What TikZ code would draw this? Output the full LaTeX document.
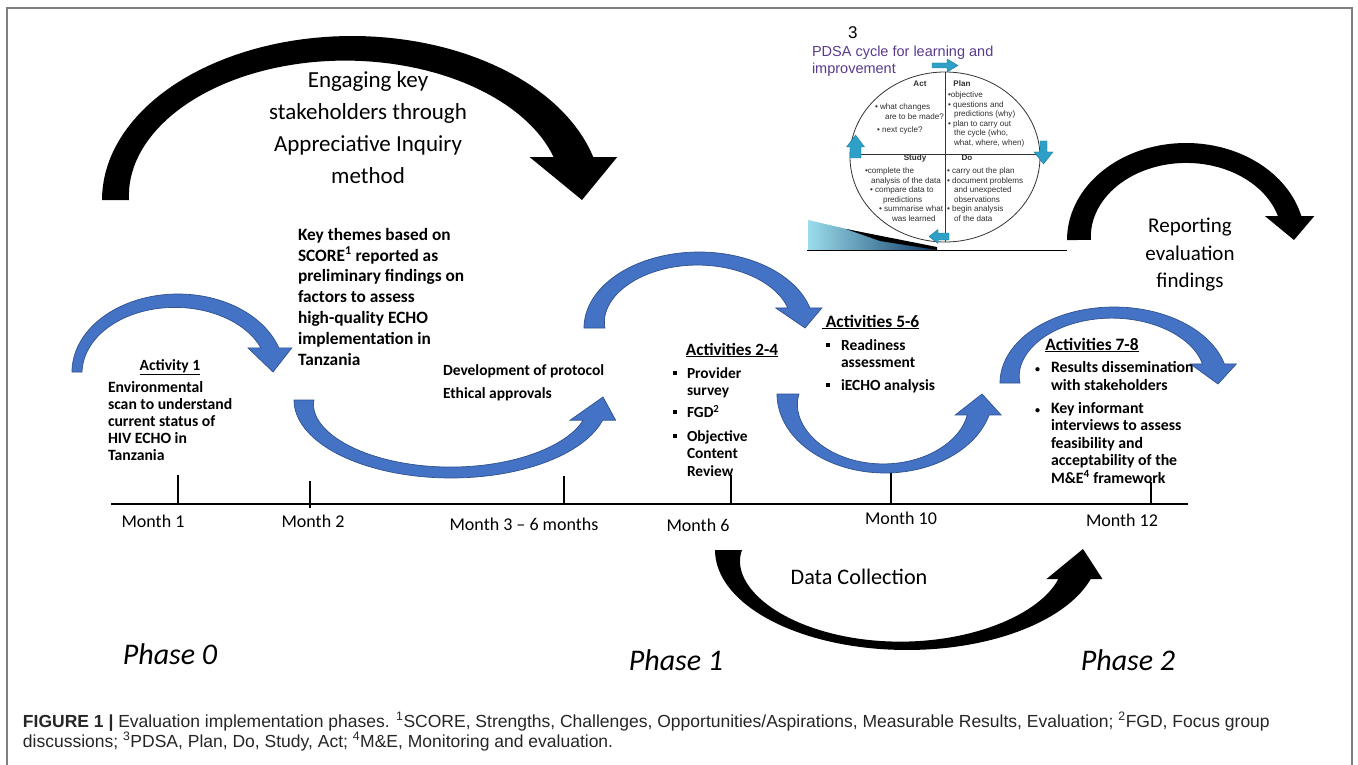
\documentclass[tikz,border=0pt]{standalone}
\usepackage{fontspec}
\setmainfont{Carlito}
\newfontfamily\capfont{Liberation Sans}
\usetikzlibrary{calc}
\definecolor{bandblue}{HTML}{4472C4}
\definecolor{bandedge}{HTML}{2F528F}
\definecolor{pdsateal}{HTML}{2E9FC6}
\definecolor{pdsatealdk}{HTML}{1D7A9C}
\definecolor{pdsapurple}{HTML}{5B3A8E}
\definecolor{wedgelight}{HTML}{9ADCEB}
\definecolor{wedgedark}{HTML}{0E3A66}
\definecolor{framegray}{HTML}{7F7F7F}
\definecolor{pdsatext}{HTML}{303030}
\newcommand{\fs}[2]{\fontsize{#1}{#2}\selectfont}
\newcommand{\bsq}{\raisebox{0.22em}{\rule{0.26em}{0.26em}}}
\newcommand{\sbul}{{\fs{10}{10}\textbf{•}}}
\def\getfour#1,#2,#3,#4\relax{\def\gA{#1}\def\gB{#2}\def\gC{#3}\def\gD{#4}}
% #1 cx,cy,rx,ry (outer ellipse)  #2 tail angle  #3 head angle
% #4 #5 #6 thickness at tail / middle / head   #7 head overhang  #8 tip  #9 style
\newcommand{\bandarrow}[9]{%
  \getfour#1\relax
  \pgfmathsetmacro\yO{\gB+\gD*sin(#3)}%
  \pgfmathsetmacro\xO{\gA+\gC*cos(#3)}%
  \pgfmathsetmacro\sphi{\gD*sin(#3)/(\gD-(#6))}%
  \pgfmathsetmacro\phiang{asin(\sphi)+((#3)>180)*360}%
  \pgfmathsetmacro\xI{\gA+(\gC-(#6))*cos(\phiang)}%
  \def\bpp{((\myang-(#2))/((\phiang)-(#2)))}%
  \def\bTT{((#4)*(1-\bpp)*(1-2*\bpp)+4*(#5)*\bpp*(1-\bpp)+(#6)*\bpp*(2*\bpp-1))}%
  \fill[#9] plot[domain=#2:#3,samples=70,variable=\myang] ({\gA+\gC*cos(\myang)},{\gB+\gD*sin(\myang)})
    -- ({\xO+#7},\yO) -- #8 -- ({\xI-#7},\yO)
    -- plot[domain=\phiang:#2,samples=70,variable=\myang] ({\gA+(\gC-\bTT)*cos(\myang)},{\gB+(\gD-\bTT)*sin(\myang)})
    -- cycle;
}
\begin{document}
\begin{tikzpicture}[x=1pt,y=-1pt,
  blueband/.style={fill=bandblue, draw=bandedge, line width=0.7pt},
  blackband/.style={fill=black},
  lbl/.style={inner sep=0pt, outer sep=0pt},
  pdsaarrow/.style={fill=pdsateal, draw=pdsatealdk, line width=0.4pt},
  pdsasmall/.style={lbl, anchor=north west, align=left, font=\capfont\fs{8.1}{9.6}, text=pdsatext},
  pdsahead/.style={lbl, anchor=base, font=\capfont\bfseries\fs{8.1}{9.6}, text=pdsatext},
  month/.style={lbl, anchor=base, font=\fs{18}{20}},
  phase/.style={lbl, anchor=base, font=\itshape\fs{30}{36}},
  tick/.style={line width=1.3pt}]
\useasboundingbox (0,0) rectangle (1358,765);
\fill[white] (0,0) rectangle (1358,765);
\draw[framegray, line width=1.3pt] (7,765) -- (7,8) -- (1352,8) -- (1352,765);

% black arcs
\bandarrow{352,200,250,164}{180}{344.8}{27}{24}{36}{24}{(582,200)}{blackband}
\bandarrow{1186,240,119,97}{180}{345.7}{24}{20}{22}{13}{(1294,240)}{blackband}
\bandarrow{907,550,192,100}{180}{17}{27}{8}{27}{12}{(1083,549)}{blackband}

% blue arcs
\bandarrow{178,372,106,78}{180}{342}{10}{13}{16}{13}{(273,372)}{blueband}
\bandarrow{451,400,157,78}{180}{15}{20}{11}{17}{13}{(603,397)}{blueband}
\bandarrow{699,328,115,76}{180}{344.7}{21}{13}{20}{12}{(805,328)}{blueband}
\bandarrow{885,394,108,79}{180}{15.4}{22}{9}{20}{12}{(982,394)}{blueband}
\bandarrow{1114,383,114,76}{180}{345.5}{20}{11}{20}{12}{(1218,384)}{blueband}

% timeline
\draw[line width=1.6pt] (111,504) -- (1188,504);
\draw[line width=2.6pt] (462,504) -- (1072,504);
\draw[tick] (178,475) -- (178,504);
\draw[tick] (310,481) -- (310,508);
\draw[tick] (564,476) -- (564,504);
\draw[tick] (731,475) -- (731,504);
\draw[tick] (891,473) -- (891,504);
\draw[tick] (1151,482) -- (1151,505);

% texts
\node[lbl, anchor=north, align=center, font=\fs{23}{32}] (engage) at (368,72)
  {Engaging key\\stakeholders through\\Appreciative Inquiry\\method};
\node[lbl, anchor=north west, align=left, font=\bfseries\fs{17.3}{20.9}] (keythemes) at (298,228)
  {Key themes based on\\SCORE\textsuperscript{1} reported as\\preliminary findings on\\factors to assess\\high-quality ECHO\\implementation in\\Tanzania};
\node[lbl, anchor=base, font=\bfseries\fs{15.6}{17}] (act1) at (170,370) {\underline{Activity 1}};
\node[lbl, anchor=north west, align=left, font=\bfseries\fs{15.7}{17}] (act1txt) at (108,381.5)
  {Environmental\\scan to understand\\current status of\\HIV ECHO in\\Tanzania};
\node[lbl, anchor=north west, align=left, font=\bfseries\fs{15.5}{23}] (protocol) at (443,364.5)
  {Development of protocol\\Ethical approvals};

\node[lbl, anchor=base, font=\bfseries\fs{17.2}{20}] (act24) at (732,355) {\underline{Activities 2-4}};
\node[lbl, anchor=north west, align=left, font=\bfseries\fs{15.4}{17.5}] (act24txt) at (687,367.5)
  {\llap{\bsq\hspace{10pt}}Provider\\survey\\[4.5pt]\llap{\bsq\hspace{10pt}}FGD\textsuperscript{2}\\[6pt]\llap{\bsq\hspace{10pt}}Objective\\Content\\Review};

\node[lbl, anchor=base west, font=\bfseries\fs{17.4}{20}] (act56) at (822,327) {\underline{\ Activities 5-6}};
\node[lbl, anchor=north west, align=left, font=\bfseries\fs{15.5}{17}] (act56txt) at (841,339.5)
  {\llap{\bsq\hspace{11pt}}Readiness\\assessment\\[6pt]\llap{\bsq\hspace{11pt}}iECHO analysis};

\node[lbl, anchor=base, font=\bfseries\fs{17.4}{20}] (act78) at (1092,350) {\underline{Activities 7-8}};
\node[lbl, anchor=north west, align=left, font=\bfseries\fs{15.8}{17.5}] (act78txt) at (1051,361.4)
  {\llap{\sbul\hspace{11pt}}Results dissemination\\with stakeholders\\[5.5pt]\llap{\sbul\hspace{11pt}}Key informant\\interviews to assess\\feasibility and\\acceptability of the\\M\&E\textsuperscript{4} framework};

\node[month] (m1) at (153,527) {Month 1};
\node[month] (m2) at (313,527) {Month 2};
\node[month] (m36) at (524,530) {Month 3 – 6 months};
\node[month] (m6) at (698,531) {Month 6};
\node[month] (m10) at (901,524) {Month 10};
\node[month] (m12) at (1122,526) {Month 12};

\node[lbl, anchor=base, font=\fs{22.2}{26}] (datacoll) at (859,584.5) {Data Collection};
\node[lbl, anchor=north, align=center, font=\fs{21}{27.5}] (report) at (1190,218) {Reporting\\evaluation\\findings};

\node[phase] (phase0) at (170,664) {Phase 0};
\node[phase] (phase1) at (676,670) {Phase 1};
\node[phase] (phase2) at (1128,670) {Phase 2};

% PDSA inset
\shade[left color=wedgelight, right color=wedgedark] (808,220) -- (808,250) -- (937,250) -- cycle;
\fill[black] (846,229) -- (937,247) -- (937,250) -- (880,241) -- cycle;
\draw[line width=1.5pt] (807,250.5) -- (1067,250.5);
\draw[black!80, line width=0.8pt] (945,157) ellipse [x radius=95, y radius=85];
\draw[black!80, line width=0.8pt] (945,72) -- (945,242);
\draw[black!80, line width=0.8pt] (850,154) -- (1040,154);
\draw[pdsaarrow] (932,63) -- (947,63) -- (947,59) -- (958,65.5) -- (947,72) -- (947,68) -- (932,68) -- cycle;
\draw[pdsaarrow] (1040,141) -- (1047,141) -- (1047,152) -- (1053,152) -- (1043.5,164) -- (1034,152) -- (1040,152) -- cycle;
\draw[pdsaarrow] (949,233) -- (949,240) -- (938,240) -- (938,243.5) -- (929,236.5) -- (938,229.5) -- (938,233) -- cycle;
\draw[pdsaarrow] (850,158) -- (861,158) -- (861,147) -- (864.5,147) -- (855.5,135) -- (846.5,147) -- (850,147) -- cycle;

\node[lbl, anchor=west, font=\capfont\fs{17}{20}] (three) at (848,33) {3};
\node[lbl, anchor=north west, align=left, font=\capfont\fs{14.5}{16.5}, text=pdsapurple] (pdsatitle) at (812,46)
  {PDSA cycle for learning and\\improvement};
\node[pdsahead] (acth) at (920,86.5) {Act};
\node[pdsahead] (planh) at (962,86.5) {Plan};
\node[pdsahead] (studyh) at (915,160.5) {Study};
\node[pdsahead] (doh) at (967,160.5) {Do};
\node[pdsasmall] (actt) at (875,103.6)
  {• what changes\\\hspace*{10pt}are to be made?\\[4pt]\hspace*{2pt}• next cycle?};
\node[pdsasmall] (plant) at (948,91.6)
  {•objective\\• questions and\\\hspace*{6pt}predictions (why)\\• plan to carry out\\\hspace*{6pt}the cycle (who,\\\hspace*{6pt}what, where, when)};
\node[pdsasmall] (studyt) at (865,167.6)
  {•complete the\\\hspace*{6pt}analysis of the data\\\hspace*{5pt}• compare data to\\\hspace*{18pt}predictions\\\hspace*{14pt}• summarise what\\\hspace*{27pt}was learned};
\node[pdsasmall] (dot) at (947,167.6)
  {• carry out the plan\\• document problems\\\hspace*{7pt}and unexpected\\\hspace*{7pt}observations\\• begin analysis\\\hspace*{7pt}of the data};

% caption
\node[lbl, anchor=base west, font=\capfont\fs{17.5}{20}, text=black!85] (cap1) at (23,727)
  {\textbf{FIGURE 1 |} Evaluation implementation phases. \textsuperscript{1}SCORE, Strengths, Challenges, Opportunities/Aspirations, Measurable Results, Evaluation; \textsuperscript{2}FGD, Focus group};
\node[lbl, anchor=base west, font=\capfont\fs{17.5}{20}, text=black!85] (cap2) at (23,747)
  {discussions; \textsuperscript{3}PDSA, Plan, Do, Study, Act; \textsuperscript{4}M\&E, Monitoring and evaluation.};
\end{tikzpicture}
\end{document}
